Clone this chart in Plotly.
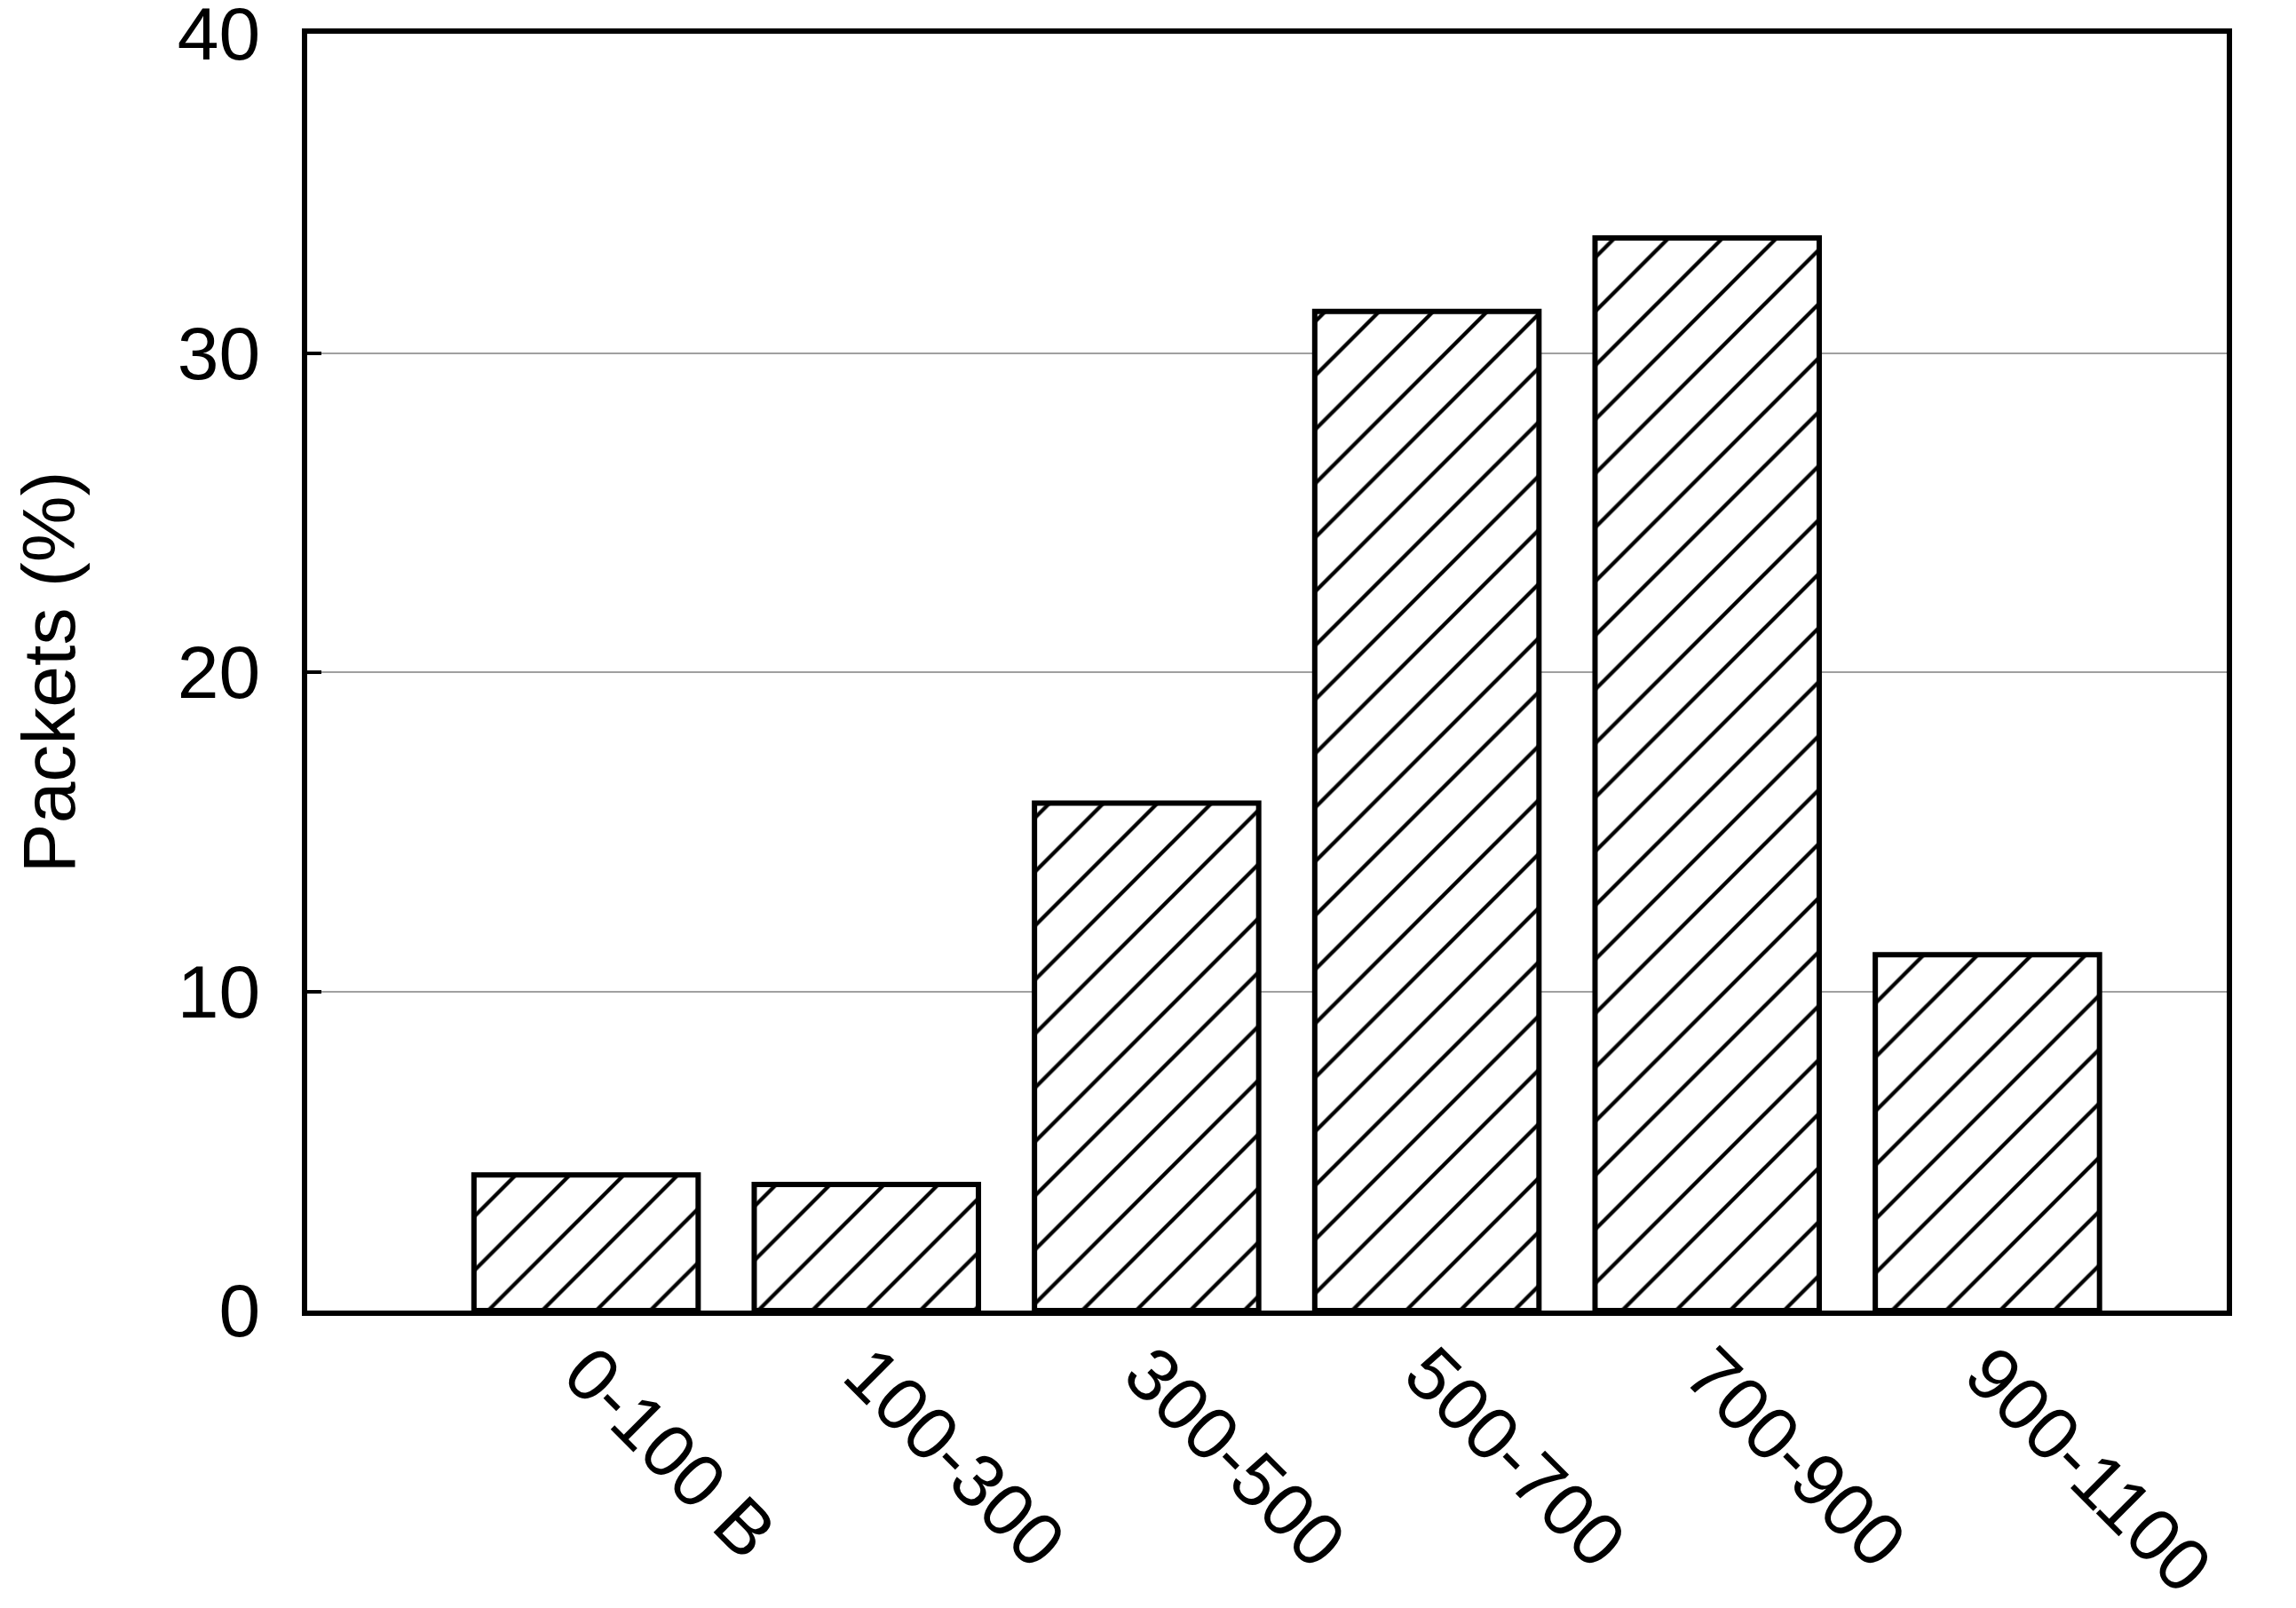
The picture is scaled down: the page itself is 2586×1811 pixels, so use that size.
import plotly.graph_objects as go

# packet size buckets and share of packets (%)
size_bins = ["0-100 B", "100-300", "300-500", "500-700", "700-900", "900-1100"]
packets_pct = [4.25, 3.95, 15.9, 31.3, 33.6, 11.15]
y_ticks = [0, 10, 20, 30, 40]

fig = go.Figure()
fig.add_trace(go.Bar(
    x=size_bins,
    y=packets_pct,
    width=0.8,
    marker=dict(
        color="white",
        line=dict(color="black", width=6),
        pattern=dict(shape="/", fgcolor="black", bgcolor="white", fgopacity=1,
                     size=43, solidity=0.1, fillmode="overlay"),
    ),
    showlegend=False,
))

font = dict(family="Liberation Sans, Arial, sans-serif", color="black")

fig.update_layout(
    width=2586, height=1811,
    margin=dict(l=338, r=86, t=30, b=343, autoexpand=False),
    paper_bgcolor="white", plot_bgcolor="white",
    font=font,
)
fig.update_xaxes(
    type="category",
    range=[-0.995, 5.854],
    showline=True, linecolor="black", linewidth=6, mirror=True,
    showgrid=False, ticks="",
    tickangle=45,
    tickfont=dict(size=84, **font),
    ticklabelstandoff=-18,
)
fig.update_yaxes(
    range=[0, 40],
    tickvals=y_ticks,
    showline=True, linecolor="black", linewidth=6, mirror=True,
    showgrid=True, gridcolor="#a0a0a0", gridwidth=2,
    zeroline=False,
    ticks="inside", ticklen=16, tickwidth=4, tickcolor="black",
    tickfont=dict(size=84, **font),
    ticklabelstandoff=30,
    ticklabeloverflow="allow",
    title=dict(text="Packets (%)", font=dict(size=84, **font), standoff=112),
)

fig.write_html("out.html")
